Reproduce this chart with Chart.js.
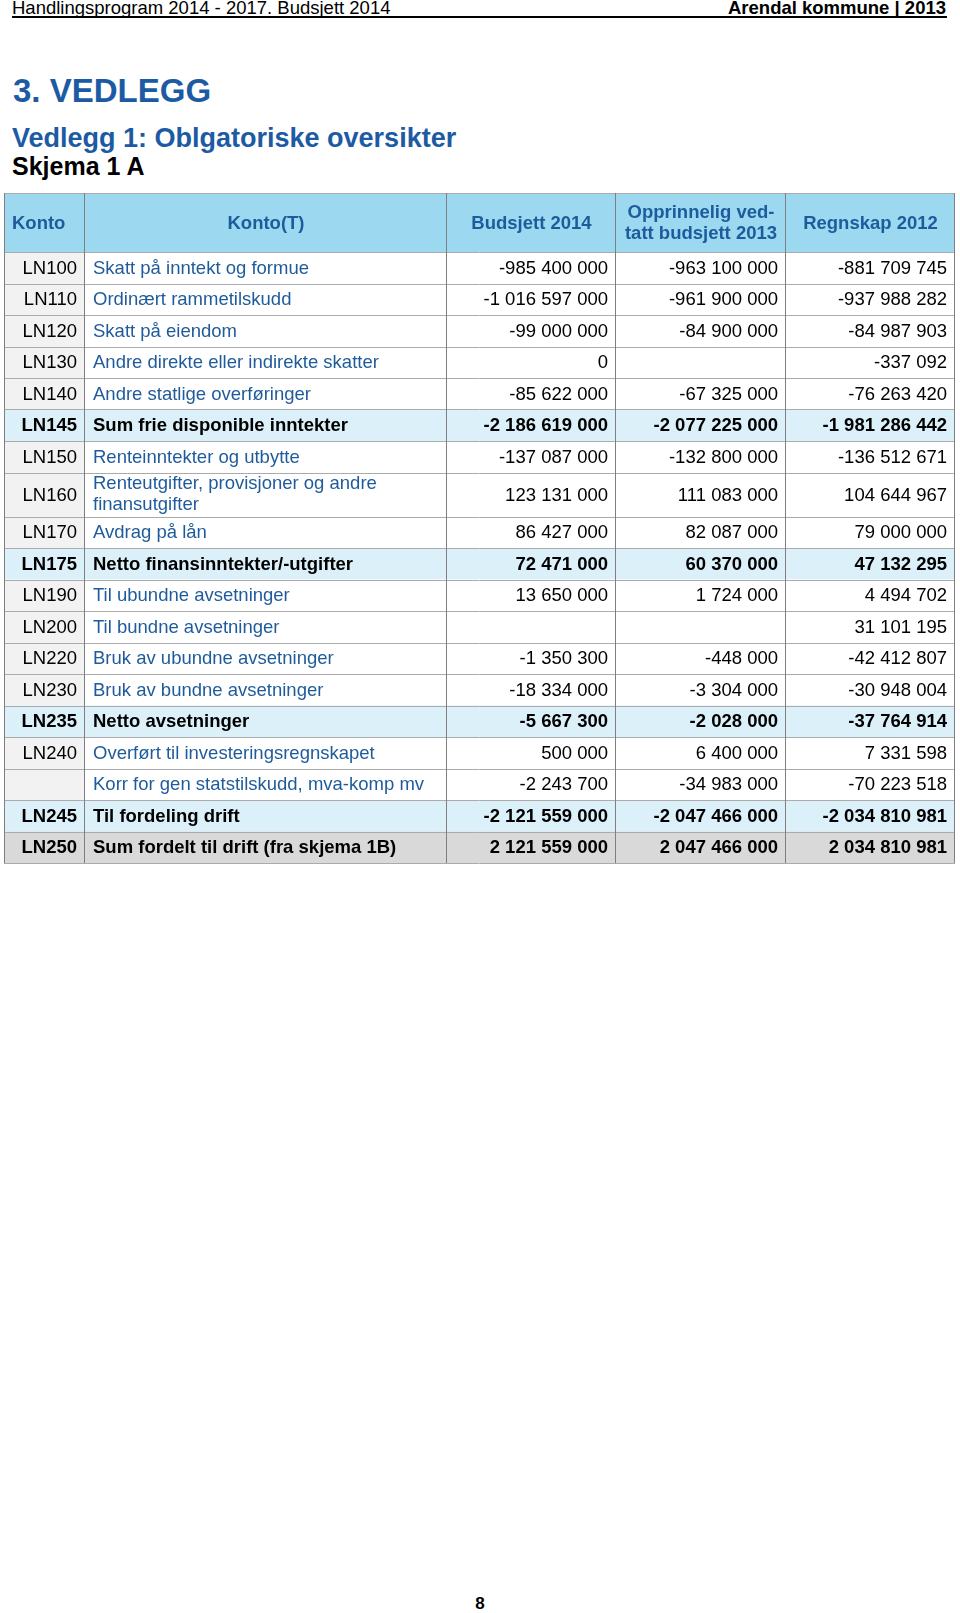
<!DOCTYPE html>
<html>
<head>
<meta charset="utf-8">
<script src="https://cdn.jsdelivr.net/npm/chart.js@4.4.1/dist/chart.umd.min.js"></script>
<style>
  html, body { margin: 0; padding: 0; background: #fff; }
  body { width: 960px; height: 1613px; position: relative; overflow: hidden; font-family: "Liberation Sans", Arial, sans-serif; }
  .abs { position: absolute; white-space: nowrap; line-height: 1; }
  #hdrL { left: 12px; top: -1px; font-size: 18.5px; color: #000; }
  #hdrR { right: 14px; top: -1px; font-size: 18.5px; font-weight: bold; color: #000; }
  #hdrLine { position: absolute; left: 12px; top: 16px; width: 935px; height: 1.5px; background: #000; }
  #h1 { left: 13px; top: 74px; font-size: 33px; font-weight: bold; color: #1c5ba3; }
  #h2 { left: 12px; top: 125px; font-size: 27px; font-weight: bold; color: #1c5ba3; }
  #h3 { left: 12px; top: 154px; font-size: 25px; font-weight: bold; color: #000; }
  #pageNo { left: 0; width: 960px; text-align: center; top: 1595px; font-size: 17px; font-weight: bold; color: #000; }
  #wrap { position: absolute; left: 3px; top: 192px; width: 953px; height: 672px; }
</style>
</head>
<body>
<div id="hdrL" class="abs">Handlingsprogram 2014 - 2017. Budsjett 2014</div>
<div id="hdrR" class="abs">Arendal kommune | 2013</div>
<div id="hdrLine"></div>
<div id="h1" class="abs">3. VEDLEGG</div>
<div id="h2" class="abs">Vedlegg 1: Oblgatoriske oversikter</div>
<div id="h3" class="abs">Skjema 1 A</div>
<div id="wrap"><canvas id="c"></canvas></div>
<div id="pageNo" class="abs">8</div>
<script>
// ---- Data ----
const columnHeaders = ['Konto', 'Konto(T)', 'Budsjett 2014', ['Opprinnelig ved-', 'tatt budsjett 2013'], 'Regnskap 2012'];
const kontoCodes = ['LN100','LN110','LN120','LN130','LN140','LN145','LN150','LN160','LN170','LN175','LN190','LN200','LN220','LN230','LN235','LN240','','LN245','LN250'];
const kontoNames = [
  'Skatt på inntekt og formue',
  'Ordinært rammetilskudd',
  'Skatt på eiendom',
  'Andre direkte eller indirekte skatter',
  'Andre statlige overføringer',
  'Sum frie disponible inntekter',
  'Renteinntekter og utbytte',
  ['Renteutgifter, provisjoner og andre', 'finansutgifter'],
  'Avdrag på lån',
  'Netto finansinntekter/-utgifter',
  'Til ubundne avsetninger',
  'Til bundne avsetninger',
  'Bruk av ubundne avsetninger',
  'Bruk av bundne avsetninger',
  'Netto avsetninger',
  'Overført til investeringsregnskapet',
  'Korr for gen statstilskudd, mva-komp mv',
  'Til fordeling drift',
  'Sum fordelt til drift (fra skjema 1B)'
];
const budsjett2014 = [-985400000,-1016597000,-99000000,0,-85622000,-2186619000,-137087000,123131000,86427000,72471000,13650000,null,-1350300,-18334000,-5667300,500000,-2243700,-2121559000,2121559000];
const budsjett2013 = [-963100000,-961900000,-84900000,null,-67325000,-2077225000,-132800000,111083000,82087000,60370000,1724000,null,-448000,-3304000,-2028000,6400000,-34983000,-2047466000,2047466000];
const regnskap2012 = [-881709745,-937988282,-84987903,-337092,-76263420,-1981286442,-136512671,104644967,79000000,47132295,4494702,31101195,-42412807,-30948004,-37764914,7331598,-70223518,-2034810981,2034810981];
const sumRows = ['LN145','LN175','LN235','LN245'];
const totalRows = ['LN250'];

// ---- Layout / style (not data) ----
const colWidths = [81, 362, 169, 170, 169];
const headerH = 59, rowH = 31.5, extraLineH = 12.5;
const FONT = '"Liberation Sans", Arial, sans-serif';
const FS = '18.5px ';
const C = {
  headerBg: '#9dd8f1', headerText: '#1d5c9c', codeBg: '#f2f2f2', sumBg: '#dcf0fa', totalBg: '#d9d9d9',
  nameText: '#1f5b9b', text: '#000000', hLine: '#ababab', vLine: '#7f7f7f'
};

function fmt(v) {
  if (v === null || v === undefined) return '';
  const neg = v < 0;
  const s = Math.abs(v).toString().replace(/\B(?=(\d{3})+(?!\d))/g, ' ');
  return (neg ? '-' : '') + s;
}

// row extents in y-units (cumulative)
const rowEdges = [0, headerH];
kontoNames.forEach(n => {
  const lines = Array.isArray(n) ? n.length : 1;
  rowEdges.push(rowEdges[rowEdges.length - 1] + rowH + (lines - 1) * extraLineH);
});
const colEdges = [0];
colWidths.forEach(w => colEdges.push(colEdges[colEdges.length - 1] + w));
const totalH = rowEdges[rowEdges.length - 1];
const totalW = colEdges[colEdges.length - 1];

const tablePlugin = {
  id: 'tablePlugin',
  afterDraw(chart) {
    const ctx = chart.ctx;
    const xs = chart.scales.x, ys = chart.scales.y;
    const X = v => xs.getPixelForValue(v);
    const Y = v => ys.getPixelForValue(v);
    const nCols = colWidths.length;
    ctx.save();
    // backgrounds
    for (let r = 0; r < rowEdges.length - 1; r++) {
      const y0 = Y(rowEdges[r]), y1 = Y(rowEdges[r + 1]);
      for (let c = 0; c < nCols; c++) {
        const x0 = X(colEdges[c]), x1 = X(colEdges[c + 1]);
        let bg = '#ffffff';
        if (r === 0) bg = C.headerBg;
        else {
          const code = kontoCodes[r - 1];
          if (totalRows.includes(code)) bg = C.totalBg;
          else if (sumRows.includes(code)) bg = C.sumBg;
          else if (c === 0) bg = C.codeBg;
        }
        ctx.fillStyle = bg;
        ctx.fillRect(x0, y0, x1 - x0, y1 - y0);
      }
    }
    // horizontal lines
    ctx.lineWidth = 1;
    ctx.strokeStyle = C.hLine;
    for (let r = 0; r < rowEdges.length; r++) {
      const y = Math.round(Y(rowEdges[r])) + 0.5;
      ctx.beginPath();
      ctx.moveTo(X(0), y); ctx.lineTo(X(totalW), y); ctx.stroke();
    }
    // vertical lines
    ctx.strokeStyle = C.vLine;
    for (let c = 0; c < colEdges.length; c++) {
      const x = Math.round(X(colEdges[c])) - 0.5 + (c === 0 ? 1 : 0);
      ctx.beginPath();
      ctx.moveTo(x, Y(0)); ctx.lineTo(x, Y(totalH)); ctx.stroke();
    }
    // header text
    ctx.textBaseline = 'middle';
    ctx.fillStyle = C.headerText;
    ctx.font = 'bold ' + FS + FONT;
    const hy = (Y(0) + Y(headerH)) / 2 + 1;
    columnHeaders.forEach((h, c) => {
      const x0 = X(colEdges[c]), x1 = X(colEdges[c + 1]);
      if (c === 0) { ctx.textAlign = 'left'; ctx.fillText(h, x0 + 8, hy); return; }
      ctx.textAlign = 'center';
      const cx = (x0 + x1) / 2;
      if (Array.isArray(h)) {
        const lh = 21.5;
        h.forEach((line, i) => ctx.fillText(line, cx, hy + (i - (h.length - 1) / 2) * lh));
      } else ctx.fillText(h, cx, hy);
    });
    // body text
    const series = [budsjett2014, budsjett2013, regnskap2012];
    kontoCodes.forEach((code, i) => {
      const y0 = Y(rowEdges[i + 1]), y1 = Y(rowEdges[i + 2]);
      const cy = (y0 + y1) / 2 + 1;
      const bold = sumRows.includes(code) || totalRows.includes(code);
      ctx.font = (bold ? 'bold ' : '') + FS + FONT;
      ctx.fillStyle = C.text;
      ctx.textAlign = 'right';
      ctx.fillText(code, X(colEdges[1]) - 8, cy);
      ctx.textAlign = 'left';
      ctx.fillStyle = bold ? C.text : C.nameText;
      const nm = kontoNames[i];
      if (Array.isArray(nm)) {
        const lh = 20.5;
        nm.forEach((line, k) => ctx.fillText(line, X(colEdges[1]) + 8, cy - 1 + (k - (nm.length - 1) / 2) * lh));
      } else ctx.fillText(nm, X(colEdges[1]) + 8, cy);
      ctx.fillStyle = C.text;
      ctx.textAlign = 'right';
      series.forEach((s, k) => ctx.fillText(fmt(s[i]), X(colEdges[k + 3]) - 8, cy));
    });
    ctx.restore();
  }
};

new Chart(document.getElementById('c'), {
  type: 'scatter',
  data: { datasets: [] },
  options: {
    responsive: true,
    maintainAspectRatio: false,
    devicePixelRatio: 1,
    animation: false,
    events: [],
    layout: { padding: 1 },
    plugins: { legend: { display: false }, tooltip: { enabled: false }, title: { display: false } },
    scales: {
      x: { type: 'linear', min: 0, max: totalW, display: false },
      y: { type: 'linear', min: 0, max: totalH, reverse: true, display: false }
    }
  },
  plugins: [tablePlugin]
});
</script>
</body>
</html>
